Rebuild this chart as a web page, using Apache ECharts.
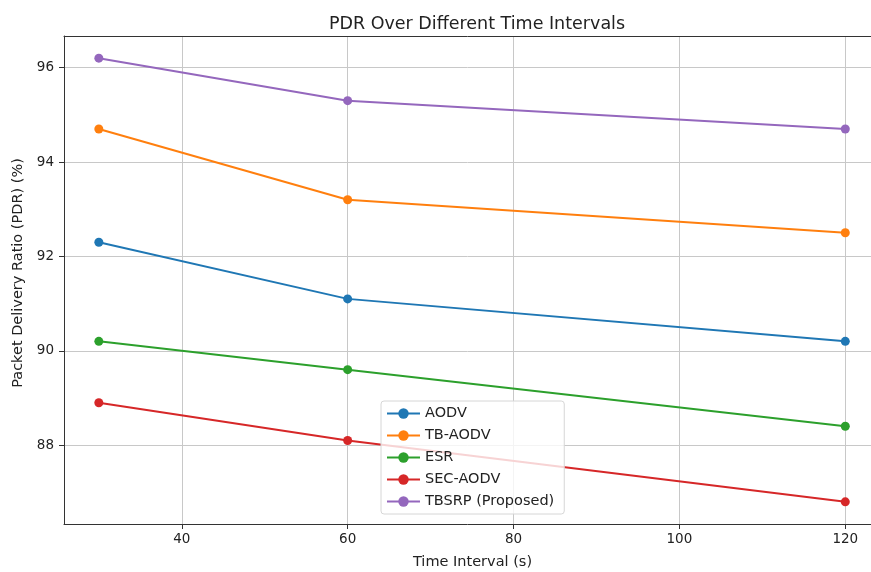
<!DOCTYPE html>
<html>
<head>
<meta charset="utf-8">
<script src="https://cdn.jsdelivr.net/npm/echarts@6/dist/echarts.min.js"></script>
<style>
    html, body { margin: 0; padding: 0; background: #fff; }
    #chart { width: 871px; height: 572px; }
</style>
</head>
<body>
<div id="chart"></div>
<script>
// time intervals (s)
var timeIntervals = [30, 60, 120];
var seriesNames = ["AODV", "TB-AODV", "ESR", "SEC-AODV", "TBSRP (Proposed)"];
var aodv = [92.3, 91.1, 90.2];
var tbAodv = [94.7, 93.2, 92.5];
var esr = [90.2, 89.6, 88.4];
var secAodv = [88.9, 88.1, 86.8];
var tbsrp = [96.2, 95.3, 94.7];
var xTicks = [40, 60, 80, 100, 120];
var yTicks = [88, 90, 92, 94, 96];

var colors = ["#1f77b4", "#ff7f0e", "#2ca02c", "#d62728", "#9467bd"];
var allValues = [aodv, tbAodv, esr, secAodv, tbsrp];

function pairs(values) {
    let out = [];
    for (let i = 0; i < timeIntervals.length; i++) {
        out.push([timeIntervals[i], values[i]]);
    }
    return out;
}

let series = [];
for (let i = 0; i < seriesNames.length; i++) {
    series.push({
        name: seriesNames[i],
        type: 'line',
        data: pairs(allValues[i]),
        symbol: 'circle',
        symbolSize: 9,
        lineStyle: {width: 2, color: colors[i]},
        itemStyle: {color: colors[i]},
        emphasis: {disabled: true}
    });
}

var font = "DejaVu Sans";
var myChart = echarts.init(document.getElementById('chart'));
let option = {
    animation: false,
    textStyle: {fontFamily: font},
    title: {
        text: 'PDR Over Different Time Intervals',
        left: 472,
        textAlign: 'center',
        top: 10,
        textStyle: {fontFamily: font, fontSize: 17.5, fontWeight: 'normal', color: '#222'}
    },
    legend: {
        orient: 'vertical',
        left: 381,
        top: 401,
        padding: [5, 10, 5, 5],
        itemGap: 7,
        itemWidth: 33,
        itemHeight: 13,
        borderColor: '#d6d6d6',
        borderWidth: 1,
        borderRadius: 3,
        backgroundColor: 'rgba(255,255,255,0.8)',
        textStyle: {fontFamily: font, fontSize: 14.5, color: '#222'},
        data: seriesNames
    },
    grid: {
        left: 64,
        top: 36,
        right: 0,
        bottom: 48,
        show: false,
        outerBoundsMode: 'none'
    },
    xAxis: [{
        type: 'value',
        min: 25.8,
        max: 123.1,
        name: 'Time Interval (s)',
        nameLocation: 'middle',
        nameGap: 31,
        nameTextStyle: {fontFamily: font, fontSize: 14.5, color: '#222', padding: [0, 0, 0, 10]},
        axisLine: {lineStyle: {color: '#333'}},
        axisTick: {show: true, customValues: xTicks, length: 5, lineStyle: {color: '#333'}},
        axisLabel: {customValues: xTicks, fontSize: 13.5, color: '#222', margin: 8},
        splitLine: {show: true, lineStyle: {color: '#c8c8c8', width: 1}}
    }, {
        type: 'value',
        position: 'top',
        min: 25.8,
        max: 123.1,
        axisLine: {show: true, lineStyle: {color: '#333'}},
        axisTick: {show: false},
        axisLabel: {show: false},
        splitLine: {show: false}
    }],
    yAxis: {
        type: 'value',
        min: 86.33,
        max: 96.67,
        name: 'Packet Delivery Ratio (PDR) (%)',
        nameLocation: 'middle',
        nameGap: 35,
        nameTextStyle: {fontFamily: font, fontSize: 14.5, color: '#222', padding: [0, 0, 0, 14]},
        axisLine: {show: true, lineStyle: {color: '#333'}},
        axisTick: {show: true, customValues: yTicks, length: 5, lineStyle: {color: '#333'}},
        axisLabel: {customValues: yTicks, fontSize: 13.5, color: '#222', margin: 10},
        splitLine: {show: true, lineStyle: {color: '#c8c8c8', width: 1}}
    },
    series: series
};
myChart.setOption(option);
</script>
</body>
</html>
